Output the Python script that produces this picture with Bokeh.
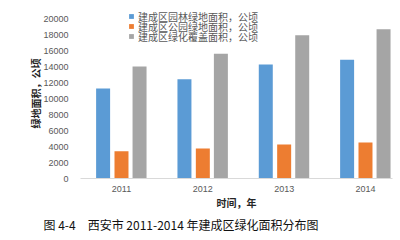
from bokeh.plotting import figure
from bokeh.models import Range1d, FixedTicker, Legend, LegendItem, Title, ColumnDataSource
from bokeh.transform import dodge
from bokeh.embed import file_html
from bokeh.resources import INLINE

years = ["2011", "2012", "2013", "2014"]
series_names = ["建成区园林绿地面积，公顷", "建成区公园绿地面积，公顷", "建成区绿化覆盖面积，公顷"]
garden = [11250, 12400, 14250, 14850]
park = [3400, 3750, 4250, 4500]
coverage = [14000, 15600, 17900, 18650]
y_ticks = [0, 2000, 4000, 6000, 8000, 10000, 12000, 14000, 16000, 18000, 20000]
colors = ["#5B9BD5", "#ED7D31", "#A5A5A5"]
caption_text = "图 4-4\u3000西安市 2011-2014 年建成区绿化面积分布图"

idx = list(range(len(years)))
src = ColumnDataSource(dict(x=idx, garden=garden, park=park, coverage=coverage))

CJK = "Noto Sans CJK SC"

p = figure(width=400, height=240, output_backend="svg", toolbar_location=None,
           x_range=Range1d(-0.504, 3.332), y_range=Range1d(0, 21250),
           min_border_left=80, min_border_right=8, min_border_top=8, min_border_bottom=62)
p.outline_line_color = None
p.xgrid.visible = False
p.ygrid.visible = False
p.background_fill_color = "white"
p.border_fill_color = "white"

w = 0.172
r1 = p.vbar(x=dodge("x", -0.226, range=p.x_range), top="garden", width=w, source=src,
            fill_color=colors[0], line_color=None)
r2 = p.vbar(x=dodge("x", 0.0, range=p.x_range), top="park", width=w, source=src,
            fill_color=colors[1], line_color=None)
r3 = p.vbar(x=dodge("x", 0.222, range=p.x_range), top="coverage", width=w, source=src,
            fill_color=colors[2], line_color=None)

# axes
p.xaxis.ticker = FixedTicker(ticks=idx)
p.xaxis.major_label_overrides = {i: y for i, y in enumerate(years)}
p.xaxis.axis_line_color = "#D9D9D9"
p.xaxis.major_tick_line_color = None
p.xaxis.minor_tick_line_color = None
p.xaxis.major_label_text_font = "Liberation Sans"
p.xaxis.major_label_text_font_size = "9px"
p.xaxis.major_label_text_color = "#595959"
p.xaxis.major_label_standoff = 1
p.xaxis.axis_label = "时间，年"
p.xaxis.axis_label_text_font = CJK
p.xaxis.axis_label_text_font_size = "10px"
p.xaxis.axis_label_text_font_style = "bold"
p.xaxis.axis_label_text_color = "#262626"
p.xaxis.axis_label_standoff = 0

p.yaxis.ticker = FixedTicker(ticks=y_ticks)
p.yaxis.axis_line_color = None
p.yaxis.major_tick_line_color = None
p.yaxis.minor_tick_line_color = None
p.yaxis.major_label_text_font = "Liberation Sans"
p.yaxis.major_label_text_font_size = "9px"
p.yaxis.major_label_text_color = "#595959"
p.yaxis.major_label_standoff = 6
p.yaxis.axis_label = "绿地面积，公顷"
p.yaxis.axis_label_text_font = CJK
p.yaxis.axis_label_text_font_size = "10px"
p.yaxis.axis_label_text_font_style = "bold"
p.yaxis.axis_label_text_color = "#262626"
p.yaxis.axis_label_standoff = -3

renderers = [r1, r2, r3]
row_bottoms = [154.5, 144.5, 134.5]
for name, r, vy in zip(series_names, renderers, row_bottoms):
    lg = Legend(items=[LegendItem(label=name, renderers=[r])], location=(48, vy))
    lg.background_fill_alpha = 0
    lg.border_line_color = None
    lg.padding = 0
    lg.margin = 0
    lg.spacing = 0
    lg.glyph_width = 6
    lg.glyph_height = 6
    lg.label_height = 10
    lg.label_standoff = 4
    lg.label_text_font = CJK
    lg.label_text_font_size = "10px"
    lg.label_text_color = "#595959"
    p.add_layout(lg, "center")

cap = Title(text=caption_text, align="left", offset=-37, standoff=2,
            text_font=CJK, text_font_size="12px", text_color="#111111",
            text_font_style="normal")
p.add_layout(cap, "below")

open("out.html", "w").write(file_html(p, INLINE))
